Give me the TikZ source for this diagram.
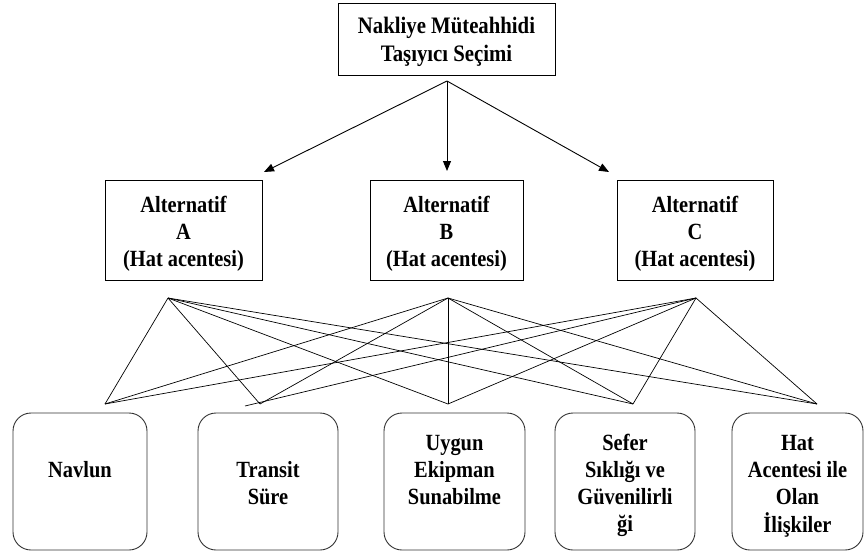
\documentclass[tikz,border=0pt]{standalone}
\usepackage{fontspec}
\setmainfont{Liberation Serif}[FakeStretch=0.88]
\usetikzlibrary{arrows.meta}
\newcommand{\mlines}[1]{\begin{tabular}[t]{@{}c@{}}#1\end{tabular}}
\begin{document}
\begin{tikzpicture}[x=1pt,y=-1pt,
  box/.style={draw, line width=0.9pt, inner sep=0pt},
  rbox/.style={draw=black!80, line width=0.9pt, rounded corners=18pt, inner sep=0pt, minimum height=137pt},
  txt/.style={inner sep=0pt, anchor=base, font=\fontsize{23.2}{27.3}\selectfont\bfseries},
  toptxt/.style={inner sep=0pt, anchor=base, font=\fontsize{23.6}{28.5}\selectfont\bfseries},
  arr/.style={-{Triangle[length=10pt,width=8pt]}, line width=0.9pt},
  web/.style={line width=0.7pt}]
\useasboundingbox (0,0) rectangle (867,554);

% top
\node[box, minimum width=217pt, minimum height=72pt] (topbox) at (446.5,39) {};
\node[toptxt] (toptext) at (446.5,33) {\mlines{Nakliye Müteahhidi\\Taşıyıcı Seçimi}};

% alternatives
\node[box, minimum width=157pt, minimum height=100pt] (Abox) at (183.5,230) {};
\node[box, minimum width=153pt, minimum height=100pt] (Bbox) at (446.5,230) {};
\node[box, minimum width=156pt, minimum height=100pt] (Cbox) at (695,230) {};
\node[txt] (Atext) at (183.5,212) {\mlines{Alternatif\\A\\(Hat acentesi)}};
\node[txt] (Btext) at (446.5,212) {\mlines{Alternatif\\B\\(Hat acentesi)}};
\node[txt] (Ctext) at (695,212) {\mlines{Alternatif\\C\\(Hat acentesi)}};

% arrows
\coordinate (fork) at (447,81);
\coordinate (tipA) at (264,172);
\coordinate (tipB) at (447,171);
\coordinate (tipC) at (609,172);
\draw[arr] (fork) -- (tipA);
\draw[arr] (fork) -- (tipB);
\draw[arr] (fork) -- (tipC);

% criteria boxes
\node[rbox, minimum width=134pt] (Nbox) at (80,481.5) {};
\node[rbox, minimum width=140pt] (Tbox) at (268,481.5) {};
\node[rbox, minimum width=141pt] (Ubox) at (454.5,481.5) {};
\node[rbox, minimum width=140pt] (Sbox) at (625,481.5) {};
\node[rbox, minimum width=131pt] (Hbox) at (797.5,481.5) {};
\node[txt] (Ntext) at (80,477) {\mlines{Navlun}};
\node[txt] (Ttext) at (268,477) {\mlines{Transit\\Süre}};
\node[txt] (Utext) at (454.5,450) {\mlines{Uygun\\Ekipman\\Sunabilme}};
\node[txt] (Stext) at (625,450) {\mlines{Sefer\\Sıklığı ve\\Güvenilirli\\ği}};
\node[txt] (Htext) at (797.5,450) {\mlines{Hat\\Acentesi ile\\Olan\\İlişkiler}};

% web of connections
\coordinate (qA) at (168,298);
\coordinate (qB) at (448,298);
\coordinate (qC) at (696,298);
\coordinate (pN) at (105,404);
\coordinate (pT) at (260,404);
\coordinate (pT2) at (245,406);
\coordinate (pU) at (448,404);
\coordinate (pS) at (633,404);
\coordinate (pH) at (817,404);
\foreach \b in {pN,pT,pU,pS,pH} {
  \draw[web] (qA) -- (\b);
  \draw[web] (qB) -- (\b);
}
\foreach \b in {pN,pT2,pU,pS,pH} {
  \draw[web] (qC) -- (\b);
}
\end{tikzpicture}
\end{document}
